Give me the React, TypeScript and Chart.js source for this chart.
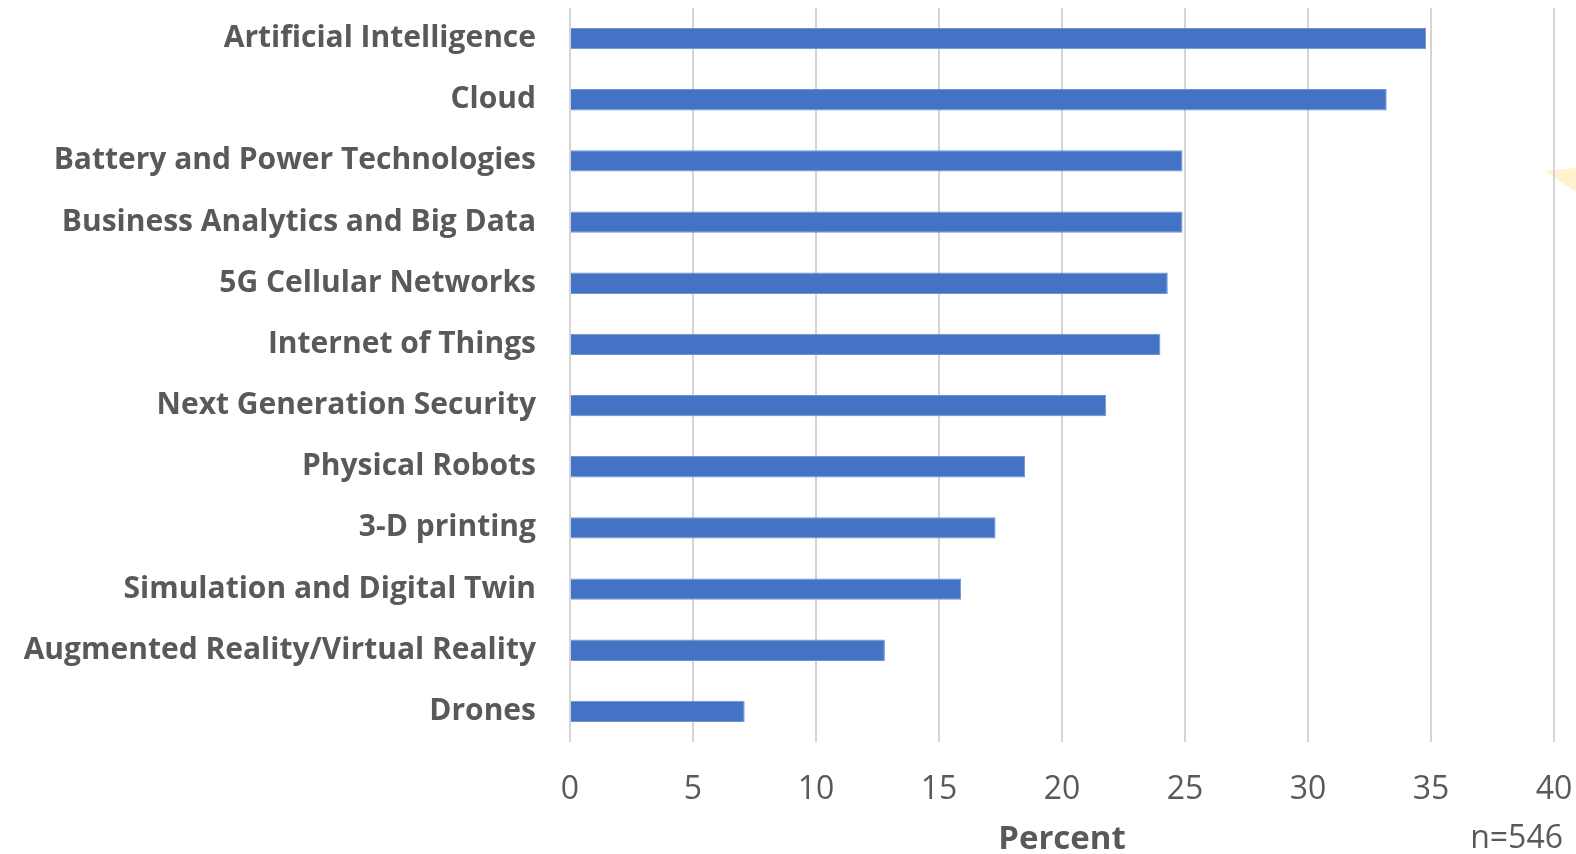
import React, { useEffect, useRef } from "react";
import { Chart, registerables } from "chart.js";

Chart.register(...registerables);

const categories = [
  "Artificial Intelligence",
  "Cloud",
  "Battery and Power Technologies",
  "Business Analytics and Big Data",
  "5G Cellular Networks",
  "Internet of Things",
  "Next Generation Security",
  "Physical Robots",
  "3-D printing",
  "Simulation and Digital Twin",
  "Augmented Reality/Virtual Reality",
  "Drones",
];
const percentValues = [34.8, 33.2, 24.9, 24.9, 24.3, 24.0, 21.8, 18.5, 17.3, 15.9, 12.8, 7.1];
const xTickValues = [0, 5, 10, 15, 20, 25, 30, 35, 40];
const xAxisTitle = "Percent";
const sampleNote = "n=546";

const FONT = "'Open Sans', sans-serif";
const TEXT = "#595959";

const notePlugin = {
  id: "notePlugin",
  beforeDraw(chart: any) {
    const ctx = chart.ctx;
    ctx.save();
    ctx.fillStyle = "#FFF2CC";
    ctx.beginPath();
    ctx.moveTo(1576, 168);
    ctx.lineTo(1545, 171);
    ctx.lineTo(1576, 192);
    ctx.closePath();
    ctx.fill();
    ctx.restore();
  },
  afterDraw(chart: any) {
    const ctx = chart.ctx;
    ctx.save();
    ctx.font = `32px ${FONT}`;
    ctx.fillStyle = TEXT;
    ctx.textAlign = "right";
    ctx.textBaseline = "middle";
    ctx.fillText(sampleNote, 1563, 839);
    ctx.restore();
  },
};

export default function App() {
  const ref = useRef<HTMLCanvasElement | null>(null);
  useEffect(() => {
    if (!ref.current) return;
    const chart = new Chart(ref.current, {
      type: "bar",
      data: {
        labels: categories,
        datasets: [
          {
            data: percentValues,
            backgroundColor: "#4472C4",
            borderColor: "#6f93d6",
            borderWidth: 1,
            barPercentage: 0.35,
            categoryPercentage: 1,
          },
        ],
      },
      options: {
        indexAxis: "y",
        animation: false,
        responsive: false,
        maintainAspectRatio: false,
        layout: { padding: { top: 8, right: 22, left: 0, bottom: 0 } },
        plugins: { legend: { display: false }, tooltip: { enabled: false } },
        scales: {
          x: {
            min: 0,
            max: 40,
            afterBuildTicks: (s: any) => {
              s.ticks = xTickValues.map((v) => ({ value: v }));
            },
            afterFit: (s: any) => {
              s.height = 112;
              s.paddingLeft = 0;
              s.paddingRight = 0;
            },
            grid: { color: "#d4d4d4", lineWidth: 2, drawTicks: false },
            border: { display: false },
            ticks: {
              color: TEXT,
              font: { family: FONT, size: 32 },
              padding: 29,
            },
            title: {
              display: true,
              text: xAxisTitle,
              color: TEXT,
              font: { family: FONT, size: 33, weight: "bold" },
              padding: { top: 0, bottom: -5 },
            },
          },
          y: {
            afterFit: (s: any) => {
              s.width = 570;
              s.paddingTop = 0;
              s.paddingBottom = 0;
            },
            grid: { display: false, drawTicks: false },
            border: { display: false },
            ticks: {
              color: TEXT,
              font: { family: FONT, size: 30, weight: "bold" },
              padding: 34,
            },
          },
        },
      },
      plugins: [notePlugin],
    });
    return () => chart.destroy();
  }, []);
  return (
    <div style={{ position: "absolute", left: 0, top: 0, width: 1576, height: 854, background: "#fff" }}>
      <canvas ref={ref} width={1576} height={854} style={{ width: 1576, height: 854 }} />
    </div>
  );
}
